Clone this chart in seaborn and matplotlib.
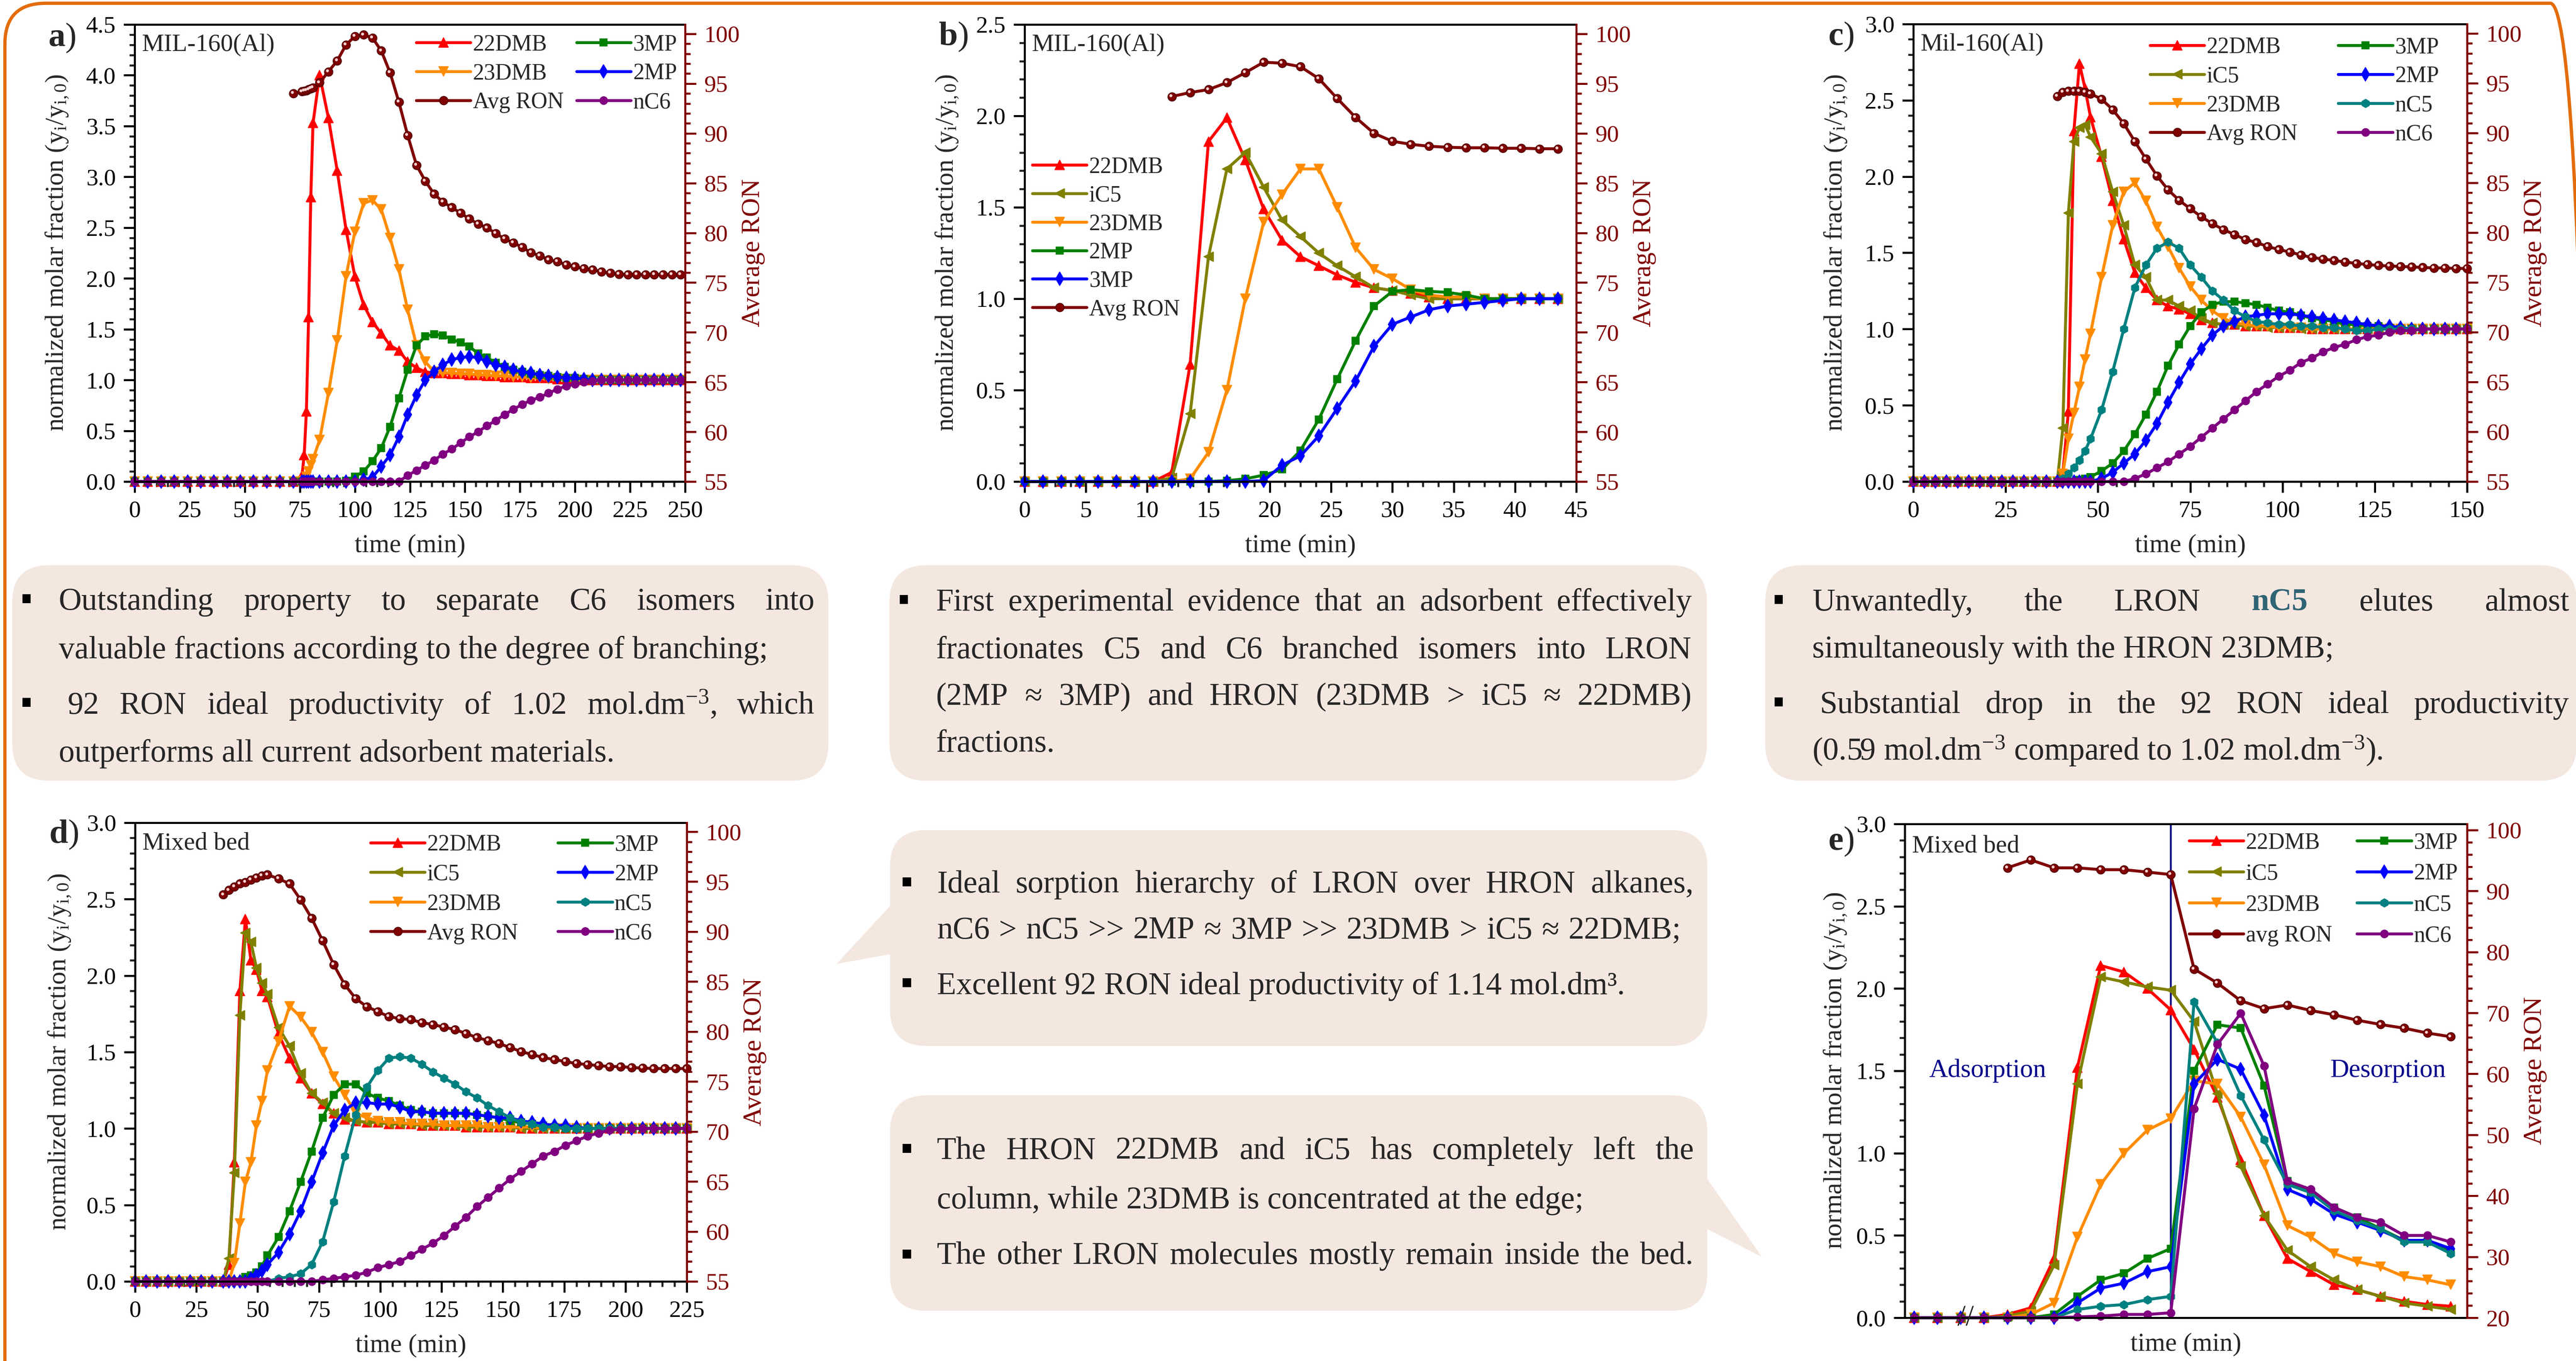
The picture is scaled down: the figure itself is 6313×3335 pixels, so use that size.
import numpy as np
import pandas as pd
import matplotlib
matplotlib.use('Agg')
import matplotlib.pyplot as plt
import matplotlib.transforms as mtransforms
from matplotlib.patches import FancyBboxPatch, Polygon, Rectangle
from matplotlib.ticker import MultipleLocator, AutoMinorLocator, FormatStrFormatter, NullLocator
import seaborn as sns

NA = np.nan

# ---------------- panel a : MIL-160(Al), C6 isomers ----------------
t_a = [0, 6, 12, 18, 24, 30, 36, 42, 48, 54, 60, 66, 72,
       76, 77, 78, 79, 80, 81,
       84, 88, 92, 96, 100, 104, 108, 112, 116, 120, 124, 128, 132, 136, 140, 144, 148, 152, 156, 160,
       164, 168, 172, 176, 180, 184, 188, 192, 196, 200, 204, 208, 212, 216, 220, 224, 228, 232, 236, 240, 244, 248]
a_22dmb = [0, 0, 0, 0, 0, 0, 0, 0, 0, 0, 0, 0, 0,
           0.06, 0.26, 0.69, 1.62, 2.80, 3.53,
           4.00, 3.58, 3.06, 2.48, 2.02, 1.74, 1.57, 1.46, 1.34, 1.29,
           1.18, 1.12, 1.08, 1.07, 1.07, 1.06, 1.06, 1.05, 1.05, 1.04,
           1.04, 1.03, 1.03, 1.03, 1.02, 1.02, 1.02, 1.01, 1.01, 1.01,
           1.0, 1.0, 1.0, 1.0, 1.0, 1.0, 1.0, 1.0, 1.0, 1.0, 1.0, 1.0]
a_23dmb = [0, 0, 0, 0, 0, 0, 0, 0, 0, 0, 0, 0, 0,
           0.0, 0.01, 0.05, 0.10, 0.16, 0.22,
           0.41, 0.87, 1.39, 2.02, 2.46, 2.74, 2.77, 2.68, 2.40, 2.09,
           1.69, 1.34, 1.18, 1.08, 1.07, 1.07, 1.06, 1.06, 1.05, 1.05,
           1.04, 1.04, 1.03, 1.03, 1.02, 1.02, 1.01, 1.01, 1.01, 1.0,
           1.0, 1.0, 1.0, 1.0, 1.0, 1.0, 1.0, 1.0, 1.0, 1.0, 1.0, 1.0]
a_3mp = [0, 0, 0, 0, 0, 0, 0, 0, 0, 0, 0, 0, 0,
         0, 0, 0, 0, 0, 0,
         0, 0, 0, 0.01, 0.05, 0.10, 0.20, 0.33, 0.54, 0.82,
         1.10, 1.34, 1.43, 1.45, 1.44, 1.40, 1.37, 1.33, 1.26, 1.22,
         1.17, 1.13, 1.10, 1.08, 1.06, 1.05, 1.04, 1.03, 1.02, 1.02,
         1.01, 1.0, 1.0, 1.0, 1.0, 1.0, 1.0, 1.0, 1.0, 1.0, 1.0, 1.0]
a_2mp = [0, 0, 0, 0, 0, 0, 0, 0, 0, 0, 0, 0, 0,
         0, 0, 0, 0, 0, 0,
         0, 0, 0, 0, 0, 0.02, 0.04, 0.15, 0.26, 0.44,
         0.66, 0.85, 1.00, 1.08, 1.15, 1.20, 1.22, 1.23, 1.22, 1.18,
         1.15, 1.13, 1.10, 1.08, 1.07, 1.05, 1.04, 1.03, 1.02, 1.02,
         1.01, 1.0, 1.0, 1.0, 1.0, 1.0, 1.0, 1.0, 1.0, 1.0, 1.0, 1.0]
a_nc6 = [0, 0, 0, 0, 0, 0, 0, 0, 0, 0, 0, 0, 0,
         0, 0, 0, 0, 0, 0,
         0, 0, 0, 0, 0, 0, 0, 0, 0, 0,
         0.06, 0.11, 0.16, 0.21, 0.27, 0.32, 0.38, 0.44, 0.49, 0.55,
         0.60, 0.66, 0.71, 0.76, 0.80, 0.83, 0.87, 0.91, 0.94, 0.96,
         0.98, 0.99, 1.0, 1.0, 1.0, 1.0, 1.0, 1.0, 1.0, 1.0, 1.0, 1.0]
a_ron = [NA, NA, NA, NA, NA, NA, NA, NA, NA, NA, NA, NA, 94.0,
         94.2, 94.25, 94.3, 94.4, 94.5, 94.6,
         95.1, 96.2, 97.3, 98.9, 99.75, 99.9, 99.6, 98.3, 96.1, 93.15,
         89.8, 86.8, 85.2, 83.9, 83.1, 82.55, 82.0, 81.4, 80.9, 80.5,
         79.95, 79.4, 79.0, 78.55, 78.0, 77.7, 77.3, 77.1, 76.8, 76.6,
         76.4, 76.3, 76.1, 75.95, 75.85, 75.8, 75.8, 75.8, 75.8, 75.8, 75.8, 75.8]

# ---------------- panel b : MIL-160(Al), C5/C6 mixture ----------------
t_b = [0, 1.5, 3, 4.5, 6, 7.5, 9, 10.5,
       12, 13.5, 15, 16.5, 18, 19.5, 21, 22.5, 24, 25.5,
       27, 28.5, 30, 31.5, 33, 34.5, 36, 37.5, 39, 40.5, 42, 43.5]
b_22dmb = [0, 0, 0, 0, 0, 0, 0, 0,
           0.05, 0.64, 1.86, 1.99, 1.76, 1.49, 1.32, 1.23, 1.18, 1.13,
           1.09, 1.06, 1.045, 1.03, 1.01, 1.0, 1.0, 1.0, 1.0, 1.0, 1.0, 1.0]
b_ic5 = [0, 0, 0, 0, 0, 0, 0, 0,
         0.02, 0.37, 1.23, 1.71, 1.80, 1.61, 1.43, 1.34, 1.25, 1.18,
         1.12, 1.06, 1.045, 1.02, 1.0, 1.0, 1.0, 1.0, 1.0, 1.0, 1.0, 1.0]
b_23dmb = [0, 0, 0, 0, 0, 0, 0, 0,
           0, 0.015, 0.16, 0.50, 1.00, 1.42, 1.57, 1.71, 1.71, 1.50,
           1.28, 1.16, 1.11, 1.05, 1.02, 1.01, 1.01, 1.0, 1.0, 1.0, 1.0, 1.0]
b_2mp = [0, 0, 0, 0, 0, 0, 0, 0,
         0, 0, 0, 0.005, 0.015, 0.035, 0.066, 0.17, 0.34, 0.56,
         0.77, 0.96, 1.04, 1.05, 1.04, 1.035, 1.02, 1.0, 1.0, 1.0, 1.0, 1.0]
b_3mp = [0, 0, 0, 0, 0, 0, 0, 0,
         0, 0, 0, 0, 0, 0.005, 0.09, 0.14, 0.25, 0.40,
         0.55, 0.74, 0.86, 0.90, 0.94, 0.96, 0.97, 0.98, 0.99, 1.0, 1.0, 1.0]
b_ron = [NA, NA, NA, NA, NA, NA, NA, NA,
         93.7, 94.1, 94.4, 95.1, 96.1, 97.15, 97.05, 96.7, 95.5, 93.5,
         91.6, 90.0, 89.2, 88.9, 88.7, 88.6, 88.55, 88.55, 88.5, 88.5, 88.45, 88.45]

# ---------------- panel c : Mil-160(Al), C5/C6 mixture with nC5 ----------------
t_c = [0, 3, 6, 9, 12, 15, 18, 21, 24, 27, 30, 33, 36, 39,
       40.5, 42, 43.5, 45, 46.5, 48,
       51, 54, 57, 60, 63, 66, 69, 72, 75, 78, 81, 84, 87, 90, 93, 96, 99, 102, 105, 108,
       111, 114, 117, 120, 123, 126, 129, 132, 135, 138, 141, 144, 147, 150]
c_22dmb = [0, 0, 0, 0, 0, 0, 0, 0, 0, 0, 0, 0, 0, 0,
           0.05, 0.46, 2.30, 2.74, 2.58, 2.39,
           2.13, 1.84, 1.59, 1.37, 1.27, 1.19, 1.15, 1.13, 1.10, 1.06,
           1.04, 1.03, 1.03, 1.02, 1.02, 1.02, 1.01, 1.01, 1.01, 1.0,
           1.0, 1.0, 1.0, 1.0, 1.0, 1.0, 1.0, 1.0, 1.0, 1.0, 1.0, 1.0, 1.0, 1.0]
c_ic5 = [0, 0, 0, 0, 0, 0, 0, 0, 0, 0, 0, 0, 0, 0,
         0.35, 1.76, 2.23, 2.32, 2.34, 2.26,
         2.15, 1.90, 1.68, 1.42, 1.34, 1.19, 1.19, 1.15, 1.12, 1.07,
         1.04, 1.03, 1.03, 1.02, 1.02, 1.01, 1.01, 1.01, 1.0, 1.0,
         1.0, 1.0, 1.0, 1.0, 1.0, 1.0, 1.0, 1.0, 1.0, 1.0, 1.0, 1.0, 1.0, 1.0]
c_23dmb = [0, 0, 0, 0, 0, 0, 0, 0, 0, 0, 0, 0, 0, 0,
           0.05, 0.28, 0.45, 0.62, 0.80, 0.97,
           1.34, 1.68, 1.90, 1.96, 1.84, 1.67, 1.54, 1.40, 1.28, 1.19,
           1.12, 1.07, 1.04, 1.03, 1.02, 1.02, 1.01, 1.01, 1.01, 1.0,
           1.0, 1.0, 1.0, 1.0, 1.0, 1.0, 1.0, 1.0, 1.0, 1.0, 1.0, 1.0, 1.0, 1.0]
c_3mp = [0, 0, 0, 0, 0, 0, 0, 0, 0, 0, 0, 0, 0, 0,
         0, 0, 0, 0.01, 0.02, 0.03,
         0.07, 0.12, 0.20, 0.31, 0.44, 0.59, 0.76, 0.90, 1.02, 1.11,
         1.16, 1.18, 1.18, 1.17, 1.16, 1.14, 1.12, 1.11, 1.09, 1.07,
         1.06, 1.05, 1.03, 1.03, 1.02, 1.02, 1.01, 1.0, 1.0, 1.0, 1.0, 1.0, 1.0, 1.0]
c_2mp = [0, 0, 0, 0, 0, 0, 0, 0, 0, 0, 0, 0, 0, 0,
         0, 0, 0, 0, 0, 0,
         0.02, 0.06, 0.12, 0.18, 0.27, 0.38, 0.52, 0.65, 0.77, 0.87,
         0.96, 1.02, 1.05, 1.08, 1.09, 1.10, 1.10, 1.10, 1.09, 1.08,
         1.07, 1.06, 1.05, 1.04, 1.03, 1.02, 1.02, 1.01, 1.0, 1.0, 1.0, 1.0, 1.0, 1.0]
c_nc5 = [0, 0, 0, 0, 0, 0, 0, 0, 0, 0, 0, 0, 0, 0,
         0.02, 0.05, 0.09, 0.14, 0.20, 0.28,
         0.47, 0.72, 1.00, 1.27, 1.42, 1.53, 1.57, 1.53, 1.42, 1.34,
         1.25, 1.19, 1.12, 1.08, 1.05, 1.04, 1.03, 1.03, 1.02, 1.02,
         1.01, 1.01, 1.0, 0.99, 0.99, 1.0, 1.0, 1.0, 1.0, 1.0, 1.0, 1.0, 1.0, 1.0]
c_nc6 = [0, 0, 0, 0, 0, 0, 0, 0, 0, 0, 0, 0, 0, 0,
         0, 0, 0, 0, 0, 0,
         0, 0, 0, 0.02, 0.05, 0.09, 0.13, 0.18, 0.23, 0.29,
         0.35, 0.41, 0.47, 0.53, 0.59, 0.64, 0.69, 0.73, 0.78, 0.81,
         0.85, 0.88, 0.90, 0.93, 0.95, 0.96, 0.98, 0.99, 0.99, 1.0, 1.0, 1.0, 1.0, 1.0]
c_ron = [NA, NA, NA, NA, NA, NA, NA, NA, NA, NA, NA, NA, NA, 93.7,
         94.1, 94.2, 94.2, 94.2, 94.1, 93.95,
         93.4, 92.35, 90.95, 89.15, 87.4, 85.7, 84.3, 83.25, 82.4, 81.6,
         80.9, 80.3, 79.8, 79.3, 79.0, 78.6, 78.3, 78.05, 77.75, 77.5,
         77.35, 77.2, 77.05, 76.9, 76.8, 76.7, 76.65, 76.6, 76.55, 76.5, 76.45, 76.45, 76.4, 76.4]

# ---------------- panel d : mixed bed ----------------
t_d = [0, 4.5, 9, 13.5, 18, 22.5, 27, 31.5,
       36, 38.25, 40.5, 42.75, 45, 47.25, 49.5, 51.75, 54,
       58.5, 63, 67.5, 72, 76.5, 81, 85.5, 90, 94.5, 99,
       103.5, 108, 112.5, 117, 121.5, 126, 130.5, 135, 139.5, 144,
       148.5, 153, 157.5, 162, 166.5, 171, 175.5, 180, 184.5, 189,
       193.5, 198, 202.5, 207, 211.5, 216, 220.5, 225]
d_22dmb = [0, 0, 0, 0, 0, 0, 0, 0,
           0, 0.11, 0.78, 1.90, 2.37, 2.10, 2.04, 1.90, 1.86,
           1.62, 1.46, 1.33, 1.23, 1.16, 1.10, 1.06, 1.05, 1.04, 1.04,
           1.03, 1.03, 1.03, 1.02, 1.02, 1.02, 1.02, 1.01, 1.01, 1.01,
           1.01, 1.01, 1.0, 1.0, 1.0, 1.0, 1.0, 1.0, 1.0, 1.0,
           1.0, 1.0, 1.0, 1.0, 1.0, 1.0, 1.0, 1.0]
d_ic5 = [0, 0, 0, 0, 0, 0, 0, 0,
         0, 0.15, 0.71, 1.74, 2.28, 2.22, 2.05, 1.95, 1.88,
         1.66, 1.54, 1.36, 1.23, 1.17, 1.10, 1.07, 1.05, 1.04, 1.04,
         1.03, 1.03, 1.03, 1.02, 1.02, 1.02, 1.02, 1.01, 1.01, 1.01,
         1.01, 1.01, 1.0, 1.0, 1.0, 1.0, 1.0, 1.0, 1.0, 1.0,
         1.0, 1.0, 1.0, 1.0, 1.0, 1.0, 1.0, 1.0]
d_23dmb = [0, 0, 0, 0, 0, 0, 0, 0,
           0, 0, 0.12, 0.38, 0.65, 0.78, 1.02, 1.18, 1.38,
           1.57, 1.80, 1.73, 1.63, 1.50, 1.34, 1.22, 1.10, 1.07, 1.05,
           1.04, 1.04, 1.03, 1.03, 1.03, 1.02, 1.02, 1.02, 1.02, 1.01,
           1.01, 1.01, 1.01, 1.01, 1.0, 1.0, 1.0, 1.0, 1.0, 1.0,
           1.0, 1.0, 1.0, 1.0, 1.0, 1.0, 1.0, 1.0]
d_3mp = [0, 0, 0, 0, 0, 0, 0, 0,
         0, 0, 0, 0, 0.03, 0.04, 0.06, 0.10, 0.17,
         0.29, 0.46, 0.65, 0.85, 1.07, 1.22, 1.29, 1.29, 1.23, 1.20,
         1.18, 1.15, 1.12, 1.11, 1.10, 1.10, 1.10, 1.10, 1.09, 1.08,
         1.07, 1.05, 1.04, 1.03, 1.02, 1.01, 1.0, 1.0, 1.0, 1.0,
         1.0, 1.0, 1.0, 1.0, 1.0, 1.0, 1.0, 1.0]
d_2mp = [0, 0, 0, 0, 0, 0, 0, 0,
         0, 0, 0, 0, 0, 0.02, 0.04, 0.07, 0.11,
         0.19, 0.31, 0.46, 0.65, 0.84, 1.02, 1.12, 1.17, 1.17, 1.16,
         1.16, 1.14, 1.11, 1.11, 1.10, 1.10, 1.10, 1.10, 1.09, 1.08,
         1.07, 1.07, 1.05, 1.04, 1.03, 1.02, 1.02, 1.01, 1.0, 1.0,
         1.0, 1.0, 1.0, 1.0, 1.0, 1.0, 1.0, 1.0]
d_nc5 = [0, 0, 0, 0, 0, 0, 0, 0,
         0, 0, 0, 0, 0, 0, 0, 0, 0,
         0.02, 0.03, 0.05, 0.11, 0.26, 0.52, 0.82, 1.09, 1.27, 1.38,
         1.46, 1.47, 1.46, 1.42, 1.37, 1.33, 1.29, 1.24, 1.20, 1.15,
         1.11, 1.07, 1.04, 1.03, 1.01, 1.01, 1.0, 1.0, 1.0, 1.0,
         1.0, 1.0, 1.0, 1.0, 1.0, 1.0, 1.0, 1.0]
d_nc6 = [0, 0, 0, 0, 0, 0, 0, 0,
         0, 0, 0, 0, 0, 0, 0, 0, 0,
         0, 0, 0, 0, 0.01, 0.02, 0.03, 0.04, 0.06, 0.09,
         0.11, 0.13, 0.17, 0.21, 0.25, 0.30, 0.36, 0.42, 0.49, 0.55,
         0.61, 0.67, 0.72, 0.77, 0.82, 0.85, 0.89, 0.92, 0.95, 0.97,
         0.99, 0.995, 1.0, 1.0, 1.0, 1.0, 1.0, 1.0]
d_ron = [NA, NA, NA, NA, NA, NA, NA, NA,
         93.7, 94.15, 94.5, 94.8, 94.95, 95.2, 95.4, 95.6, 95.7,
         95.3, 94.8, 93.2, 91.35, 89.1, 86.7, 84.7, 83.3, 82.5, 82.0,
         81.5, 81.3, 81.2, 80.9, 80.7, 80.45, 80.2, 79.8, 79.4, 79.1,
         78.8, 78.4, 78.0, 77.7, 77.4, 77.2, 77.0, 76.8, 76.7, 76.6,
         76.5, 76.5, 76.4, 76.35, 76.3, 76.3, 76.3, 76.3]

# ---------------- panel e : mixed bed, adsorption / desorption (sample index) ----------------
t_e = [0, 1, 2, 3, 4, 5, 6, 7, 8, 9, 10, 11, 12, 13, 14, 15, 16, 17, 18, 19, 20, 21, 22, 23]
e_22dmb = [0, 0, 0, 0, 0.02, 0.06, 0.36, 1.52, 2.14, 2.10, 2.00, 1.87,
           1.63, 1.34, 0.96, 0.62, 0.36, 0.28, 0.20, 0.17, 0.13, 0.10, 0.08, 0.07]
e_ic5 = [0, 0, 0, 0, 0.01, 0.04, 0.32, 1.42, 2.07, 2.04, 2.01, 1.99,
         1.80, 1.36, 0.92, 0.62, 0.41, 0.31, 0.23, 0.17, 0.13, 0.09, 0.07, 0.05]
e_23dmb = [0, 0, 0, 0, 0, 0.02, 0.09, 0.49, 0.81, 1.00, 1.14, 1.21,
           1.44, 1.42, 1.22, 0.93, 0.56, 0.49, 0.39, 0.34, 0.31, 0.25, 0.23, 0.20]
e_3mp = [0, 0, 0, 0, 0, 0, 0.02, 0.13, 0.23, 0.27, 0.36, 0.42,
         1.50, 1.78, 1.76, 1.41, 0.83, 0.76, 0.67, 0.61, 0.54, 0.47, 0.46, 0.40]
e_2mp = [0, 0, 0, 0, 0, 0, 0, 0.09, 0.18, 0.21, 0.28, 0.31,
         1.42, 1.57, 1.51, 1.23, 0.78, 0.72, 0.63, 0.58, 0.53, 0.47, 0.47, 0.42]
e_nc5 = [0, 0, 0, 0, 0, 0, 0, 0.05, 0.07, 0.08, 0.11, 0.13,
         1.92, 1.67, 1.35, 1.08, 0.81, 0.76, 0.65, 0.59, 0.54, 0.46, 0.46, 0.39]
e_nc6 = [0, 0, 0, 0, 0, 0, 0, 0.005, 0.01, 0.02, 0.02, 0.03,
         1.27, 1.66, 1.85, 1.53, 0.83, 0.78, 0.67, 0.61, 0.58, 0.50, 0.50, 0.46]
e_ron = [NA, NA, NA, NA, 93.8, 95.1, 93.8, 93.8, 93.5, 93.5, 93.1, 92.7,
         77.2, 74.9, 72.0, 70.7, 71.3, 70.4, 69.7, 68.8, 68.1, 67.5, 66.7, 66.1]

# ---------------- style ----------------
sns.set_style('ticks')
plt.rcParams['font.family'] = ['Liberation Serif', 'DejaVu Sans']
plt.rcParams['mathtext.fontset'] = 'custom'
plt.rcParams['mathtext.rm'] = 'Liberation Serif'
plt.rcParams['mathtext.it'] = 'Liberation Serif:italic'
plt.rcParams['mathtext.bf'] = 'Liberation Serif:bold'

RED, OLIVE, ORG = '#FF0000', '#808000', '#FF8C00'
GREEN, BLUE, TEAL, PURPLE = '#008000', '#0000FF', '#008080', '#800080'
RONC = '#800000'
BOX = '#F4E7E0'
BORDER = '#E36C0A'

W, H, DPI = 6313, 3335, 200
fig = plt.figure(figsize=(W / DPI, H / DPI), dpi=DPI)
fig.patch.set_facecolor('white')
rend = fig.canvas.get_renderer()
IDT = mtransforms.IdentityTransform()
YLAB = r'normalized molar fraction (y$_{\mathrm{i}}$/y$_{\mathrm{i,0}}$)'


def px_text(x, y, s, **kw):
    return fig.text(x, H - y, s, transform=IDT, **kw)


def draw(ax, t, vals, color, marker, ms, mec=None, shine=False):
    df = pd.DataFrame({'t': t, 'v': vals}).dropna()
    sns.lineplot(data=df, x='t', y='v', ax=ax, color=color, marker=marker,
                 markersize=ms, markeredgecolor=mec or color, markeredgewidth=0.6,
                 linewidth=2.6, estimator=None, sort=False, clip_on=False)
    line = ax.lines[-1]
    if shine:
        # small highlight that gives the RON markers their ball look
        hl = mtransforms.offset_copy(ax.transData, fig=fig, x=-1.0, y=1.0, units='points')
        ax.plot(df['t'], df['v'], linestyle='none', marker='o', markersize=2.6,
                color='#f3d0d0', markeredgewidth=0, transform=hl, clip_on=False)
    return line


def panel(rect, t, series, ron, ron_name, order, xlim, xstep, xminor, ylim, rlim, rstep,
          leg_xy, ncol, colsp, lspace, tag, tag_xy, note, xticks=True, xlab_off=128, ylab_off=158):
    l, tp, r, b = rect
    aw, ah = r - l, b - tp
    ax = fig.add_axes([l / W, 1 - b / H, aw / W, ah / H])
    ax2 = ax.twinx()
    hand = {}
    for name, vals, col, mk, ms in series:
        hand[name] = draw(ax, t, vals, col, mk, ms)
    hand[ron_name] = draw(ax2, t, ron, RONC, 'o', 7.5, mec='#4a0000', shine=True)

    ax.set_xlim(xlim)
    ax.set_ylim(ylim)
    ax2.set_ylim(rlim)
    ax.yaxis.set_major_locator(MultipleLocator(0.5))
    ax.yaxis.set_minor_locator(AutoMinorLocator(5))
    ax.yaxis.set_major_formatter(FormatStrFormatter('%.1f'))
    ax2.yaxis.set_major_locator(MultipleLocator(rstep))
    ax2.yaxis.set_minor_locator(AutoMinorLocator(5))
    if xticks:
        ax.xaxis.set_major_locator(MultipleLocator(xstep))
        ax.xaxis.set_minor_locator(AutoMinorLocator(xminor))
    else:
        ax.set_xticks([])
        ax.xaxis.set_minor_locator(NullLocator())

    ax.tick_params(axis='both', which='major', direction='out', length=9.7, width=1.8,
                   labelsize=21, pad=7, colors='black')
    ax.tick_params(axis='both', which='minor', direction='out', length=4.7, width=1.8)
    ax.tick_params(which='both', top=False, right=False)
    ax2.tick_params(axis='y', which='major', direction='out', length=9.7, width=1.8,
                    labelsize=21, pad=7, colors=RONC)
    ax2.tick_params(axis='y', which='minor', direction='out', length=4.7, width=1.8, colors=RONC)
    for s in ax.spines.values():
        s.set_linewidth(1.8)
        s.set_color('black')
    ax.spines['right'].set_visible(False)
    for k in ('left', 'top', 'bottom'):
        ax2.spines[k].set_visible(False)
    ax2.spines['right'].set_color(RONC)
    ax2.spines['right'].set_linewidth(1.8)

    ax.set_xlabel('time (min)', fontsize=23)
    ax.xaxis.set_label_coords(0.5, -xlab_off / ah)
    ax.set_ylabel(YLAB, fontsize=23)
    ax.yaxis.set_label_coords(-ylab_off / aw, 0.5)
    ax2.set_ylabel('Average RON', fontsize=23, color=RONC)
    ax2.yaxis.set_label_coords(1 + 138 / aw, 0.5)

    ax2.legend([hand[n] for n in order], order, loc='upper left', bbox_to_anchor=leg_xy,
               ncol=ncol, frameon=False, fontsize=20, handlelength=2.4, handletextpad=0.1,
               columnspacing=colsp, labelspacing=lspace, borderpad=0, borderaxespad=0)
    ax2.text(0.013, 0.955, note, transform=ax.transAxes, fontsize=22, va='center', ha='left')
    px_text(tag_xy[0], tag_xy[1], r'$\mathbf{%s}$)' % tag, fontsize=30, va='baseline')
    return ax, ax2


# panel a
panel((330, 60, 1679, 1180), t_a,
      [('22DMB', a_22dmb, RED, '^', 8.5), ('23DMB', a_23dmb, ORG, 'v', 8.5),
       ('3MP', a_3mp, GREEN, 's', 6.5), ('2MP', a_2mp, BLUE, 'd', 8.5),
       ('nC6', a_nc6, PURPLE, 'o', 7)],
      a_ron, 'Avg RON', ['22DMB', '23DMB', 'Avg RON', '3MP', '2MP', 'nC6'],
      (0, 250), 25, 5, (0, 4.5), (55, 100.94), 5,
      (0.5115, 0.979), 2, 0.56, 0.34, 'a', (118, 113), 'MIL-160(Al)')

# panel b
panel((2511, 60, 3863, 1180), t_b,
      [('22DMB', b_22dmb, RED, '^', 8.5), ('iC5', b_ic5, OLIVE, '<', 8.5),
       ('23DMB', b_23dmb, ORG, 'v', 8.5), ('2MP', b_2mp, GREEN, 's', 6.5),
       ('3MP', b_3mp, BLUE, 'd', 8.5)],
      b_ron, 'Avg RON', ['22DMB', 'iC5', '23DMB', '2MP', '3MP', 'Avg RON'],
      (0, 45), 5, 4, (0, 2.5), (55, 100.94), 5,
      (0.014, 0.711), 1, 0.5, 0.32, 'b', (2300, 110), 'MIL-160(Al)')

# panel c
panel((4689, 59, 6046, 1180), t_c,
      [('22DMB', c_22dmb, RED, '^', 8.5), ('iC5', c_ic5, OLIVE, '<', 8.5),
       ('23DMB', c_23dmb, ORG, 'v', 8.5), ('3MP', c_3mp, GREEN, 's', 6.5),
       ('2MP', c_2mp, BLUE, 'd', 8.5), ('nC5', c_nc5, TEAL, 'h', 7.5),
       ('nC6', c_nc6, PURPLE, 'o', 7)],
      c_ron, 'Avg RON', ['22DMB', 'iC5', '23DMB', 'Avg RON', '3MP', '2MP', 'nC5', 'nC6'],
      (0, 150), 25, 5, (0, 3.0), (55, 100.94), 5,
      (0.4274, 0.972), 2, 1.8, 0.34, 'c', (4480, 110), 'Mil-160(Al)')

# panel d
panel((331, 2016, 1683, 3140), t_d,
      [('22DMB', d_22dmb, RED, '^', 8.5), ('iC5', d_ic5, OLIVE, '<', 8.5),
       ('23DMB', d_23dmb, ORG, 'v', 8.5), ('3MP', d_3mp, GREEN, 's', 6.5),
       ('2MP', d_2mp, BLUE, 'd', 8.5), ('nC5', d_nc5, TEAL, 'h', 7.5),
       ('nC6', d_nc6, PURPLE, 'o', 7)],
      d_ron, 'Avg RON', ['22DMB', 'iC5', '23DMB', 'Avg RON', '3MP', '2MP', 'nC5', 'nC6'],
      (0, 225), 25, 5, (0, 3.0), (55, 100.9), 5,
      (0.4268, 0.975), 2, 1.76, 0.37, 'd', (120, 2065), 'Mixed bed', ylab_off=153)

# panel e
ax_e, ax_e2 = panel((4668, 2019, 6046, 3229), t_e,
                    [('22DMB', e_22dmb, RED, '^', 8.5), ('iC5', e_ic5, OLIVE, '<', 8.5),
                     ('23DMB', e_23dmb, ORG, 'v', 8.5), ('3MP', e_3mp, GREEN, 's', 6.5),
                     ('2MP', e_2mp, BLUE, 'd', 8.5), ('nC5', e_nc5, TEAL, 'h', 7.5),
                     ('nC6', e_nc6, PURPLE, 'o', 7)],
                    e_ron, 'avg RON', ['22DMB', 'iC5', '23DMB', 'avg RON', '3MP', '2MP', 'nC5', 'nC6'],
                    (-0.4, 23.7), 1, 1, (0, 3.0), (20, 101), 10,
                    (0.5058, 0.983), 2, 1.1, 0.43, 'e', (4480, 2082), 'Mixed bed',
                    xticks=False, xlab_off=36, ylab_off=138)
ax_e.axvline(11, color='#000080', lw=1.6, zorder=1)
ax_e.text(3.15, 1.5, 'Adsorption', color='#00008B', fontsize=23, ha='center', va='center')
ax_e.text(20.3, 1.5, 'Desorption', color='#00008B', fontsize=23, ha='center', va='center')
ax_e.text(2.2, 0.0, '//', fontsize=26, ha='center', va='center', clip_on=False, zorder=10)


# ---------------- text boxes ----------------
def box(x0, y0, x1, y1, r=90):
    fig.add_artist(FancyBboxPatch((x0, H - y1), x1 - x0, y1 - y0,
                                  boxstyle='round,pad=0,rounding_size=%d' % r,
                                  transform=IDT, fc=BOX, ec='none', zorder=0))


def tail(pts):
    fig.add_artist(Polygon([(x, H - y) for x, y in pts], closed=True, transform=IDT,
                           fc=BOX, ec='none', zorder=0))


def bullet(x0, yc, w=20, h=22):
    fig.add_artist(Rectangle((x0, H - yc - h / 2), w, h, transform=IDT, fc='black',
                             ec='none', zorder=6))


def text_line(x0, x1, y, words, justify=True, size=28):
    if not justify:
        return px_text(x0, y, words, fontsize=size, va='baseline', zorder=6)
    if isinstance(words, str):
        words = words.split(' ')
    items = []
    for w in words:
        s, kw = (w if isinstance(w, tuple) else (w, {}))
        items.append(px_text(0, y, s, fontsize=size, va='baseline', zorder=6, **kw))
    widths = [it.get_window_extent(renderer=rend).width for it in items]
    gap = (x1 - x0 - sum(widths)) / (len(items) - 1)
    x = x0
    for it, wd in zip(items, widths):
        it.set_x(x)
        x += wd + gap


box(30, 1385, 2030, 1913)
box(2180, 1385, 4183, 1913)
box(4326, 1385, 6315, 1913)
box(2181, 2034, 4184, 2563)
box(2181, 2684, 4184, 3212)
tail([(2200, 2200), (2200, 2335), (2050, 2362)])
tail([(4165, 2862), (4165, 3002), (4318, 3080)])

# box a
bullet(55, 1467)
bullet(55, 1721)
text_line(144, 1996, 1494, 'Outstanding property to separate C6 isomers into')
text_line(144, 1996, 1613, 'valuable fractions according to the degree of branching;', justify=False)
text_line(165, 1996, 1749, '92 RON ideal productivity of 1.02 mol.dm$^{-3}$, which')
text_line(144, 1996, 1866, 'outperforms all current adsorbent materials.', justify=False)

# box b
bullet(2205, 1469)
text_line(2294, 4146, 1496, 'First experimental evidence that an adsorbent effectively')
text_line(2294, 4146, 1613, 'fractionates C5 and C6 branched isomers into LRON')
text_line(2294, 4146, 1727, '(2MP \u2248 3MP) and HRON (23DMB > iC5 \u2248 22DMB)')
text_line(2294, 4146, 1842, 'fractions.', justify=False)

# box c
bullet(4349, 1469)
bullet(4349, 1720)
text_line(4441, 6296, 1496, ['Unwantedly,', 'the', 'LRON',
                             ('nC5', {'color': '#2F6474', 'fontweight': 'bold'}),
                             'elutes', 'almost'])
text_line(4441, 6296, 1611, 'simultaneously with the HRON 23DMB;', justify=False)
text_line(4460, 6296, 1747, 'Substantial drop in the 92 RON ideal productivity')
text_line(4441, 6296, 1862, '(0.59 mol.dm$^{-3}$ compared to 1.02 mol.dm$^{-3}$).', justify=False)

# middle top box
bullet(2212, 2161, w=21)
bullet(2212, 2408, w=21)
text_line(2296, 4151, 2187, 'Ideal sorption hierarchy of LRON over HRON alkanes,')
text_line(2296, 4120, 2300, 'nC6 > nC5 >> 2MP \u2248 3MP >> 23DMB > iC5 \u2248 22DMB;')
text_line(2296, 4151, 2436, 'Excellent 92 RON ideal productivity of 1.14 mol.dm\u00b3.', justify=False)

# middle bottom box
bullet(2212, 2814, w=21)
bullet(2212, 3073, w=21)
text_line(2296, 4151, 2840, 'The HRON 22DMB and iC5 has completely left the')
text_line(2296, 4151, 2961, 'column, while 23DMB is concentrated at the edge;', justify=False)
text_line(2296, 4151, 3097, 'The other LRON molecules mostly remain inside the bed.')

# orange frame
fig.add_artist(FancyBboxPatch((12, H - 3450), 6350 - 12, 3450 - 8,
                              boxstyle='round,pad=0,rounding_size=100', transform=IDT,
                              fill=False, ec=BORDER, lw=2.9, zorder=10))

fig.savefig('out.png', dpi=DPI)
